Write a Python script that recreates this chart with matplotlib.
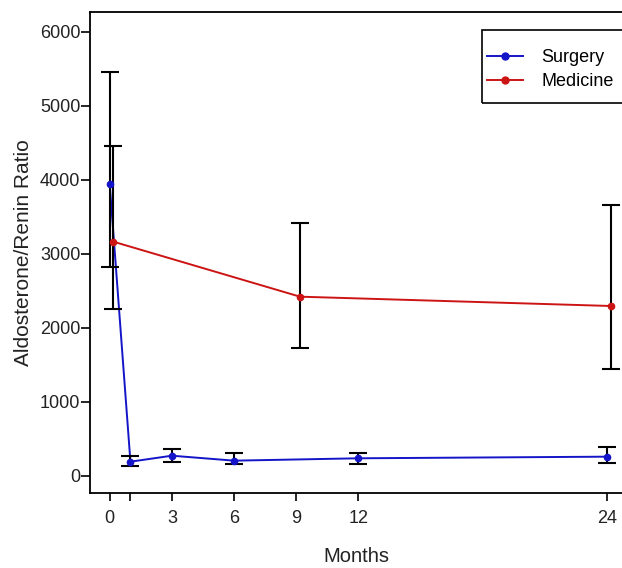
import matplotlib

matplotlib.use("Agg")
import matplotlib.pyplot as plt
from matplotlib.patches import Rectangle

plt.rcParams["font.family"] = ["Liberation Sans", "DejaVu Sans"]

# Surgery group
surg_months = [0, 1, 3, 6, 12, 24]
surg_mean = [3946, 193, 274, 207, 239, 261]
surg_upper = [5460, 270, 365, 306, 315, 396]
surg_lower = [2830, 139, 193, 158, 162, 171]

# Medicine group
med_months = [0, 9, 24]
med_mean = [3166, 2423, 2297]
med_upper = [4460, 3423, 3662]
med_lower = [2255, 1725, 1446]

x_ticks = [0, 1, 3, 6, 9, 12, 24]
x_ticklabels = ["0", "", "3", "6", "9", "12", "24"]
y_ticks = [0, 1000, 2000, 3000, 4000, 5000, 6000]

BLUE = "#1414c8"
RED = "#cc1414"
MED_DODGE = 0.18

W, H = 622, 568
fig = plt.figure(figsize=(W / 100, H / 100), dpi=100)
ax = fig.add_axes([90 / W, (H - 493) / H, 538 / W, 481 / H])

med_x = [m + MED_DODGE for m in med_months]


def draw(ax, x, mean, lo, hi, color, label):
    yerr = [[m - l for m, l in zip(mean, lo)], [h - m for m, h in zip(mean, hi)]]
    ax.plot(x, mean, color=color, lw=1.4, zorder=2)
    ax.errorbar(x, mean, yerr=yerr, fmt="none", ecolor="black", elinewidth=1.5,
                capsize=6.5, capthick=1.5, zorder=3)
    ax.plot(x, mean, ls="none", marker="o", ms=4.5, color=color, zorder=4)
    return ax.plot([], [], color=color, lw=1.4, marker="o", ms=5, label=label)[0]


h1 = draw(ax, surg_months, surg_mean, surg_lower, surg_upper, BLUE, "Surgery")
h2 = draw(ax, med_x, med_mean, med_lower, med_upper, RED, "Medicine")

ax.set_xlim(-0.95, 25.0)
ax.set_ylim(-230, 6270)
ax.set_xticks(x_ticks)
ax.set_xticklabels(x_ticklabels)
ax.set_yticks(y_ticks)
ax.tick_params(axis="x", direction="out", length=6, width=1.2, labelsize=13, pad=6,
               labelcolor="#222222")
ax.tick_params(axis="y", direction="out", length=6.5, width=1.2, labelsize=13, pad=0.5,
               labelcolor="#222222")
for s in ax.spines.values():
    s.set_linewidth(1.3)

ax.set_xlabel("Months", fontsize=14.5, color="#222222", va="center")
ax.xaxis.set_label_coords((356 - 90) / 538, (493 - 557) / 481)
ax.set_ylabel("Aldosterone/Renin Ratio", fontsize=15, color="#222222", va="center")
ax.yaxis.set_label_coords((24 - 90) / 538, (493 - 253) / 481)

# legend box (runs off the right edge, like the source)
fig.patches.append(Rectangle((482 / W, 1 - 103 / H), 150 / W, 73 / H,
                             transform=fig.transFigure, fill=False,
                             edgecolor="black", lw=1.2))
fig.legend(handles=[h1, h2], loc="upper left",
           bbox_to_anchor=(487 / W, 1 - 49 / H), bbox_transform=fig.transFigure,
           frameon=False, borderpad=0, borderaxespad=0, fontsize=13,
           handlelength=2.0, handletextpad=1.0, labelspacing=0.4)

fig.savefig("out.png", dpi=100)
plt.close(fig)
